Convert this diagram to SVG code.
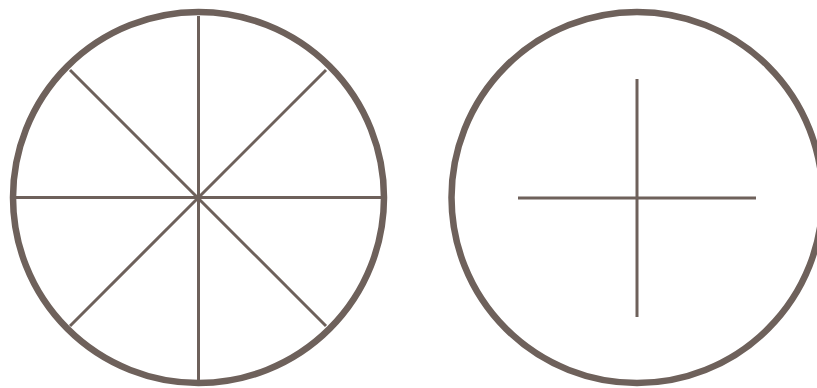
<svg xmlns="http://www.w3.org/2000/svg" width="817" height="388" viewBox="0 0 817 388">
<style>
.ring{fill:none;stroke:#6e615b;stroke-width:6.5}
.spoke{stroke:#6e615b;stroke-width:3;stroke-linecap:butt}
</style>
<rect width="817" height="388" fill="#ffffff"/>
<g id="wheel">
<circle class="ring" cx="198.5" cy="197.5" r="185.5"/>
<line class="spoke" x1="198.5" y1="16" x2="198.5" y2="380"/>
<line class="spoke" x1="16" y1="197.5" x2="381" y2="197.5"/>
<line class="spoke" x1="70" y1="70" x2="326" y2="326"/>
<line class="spoke" x1="326" y1="70" x2="70" y2="326"/>
</g>
<g id="cross">
<circle class="ring" cx="637" cy="197.5" r="185.5"/>
<line class="spoke" x1="637" y1="79" x2="637" y2="317"/>
<line class="spoke" x1="518" y1="198" x2="756" y2="198"/>
</g>
</svg>
